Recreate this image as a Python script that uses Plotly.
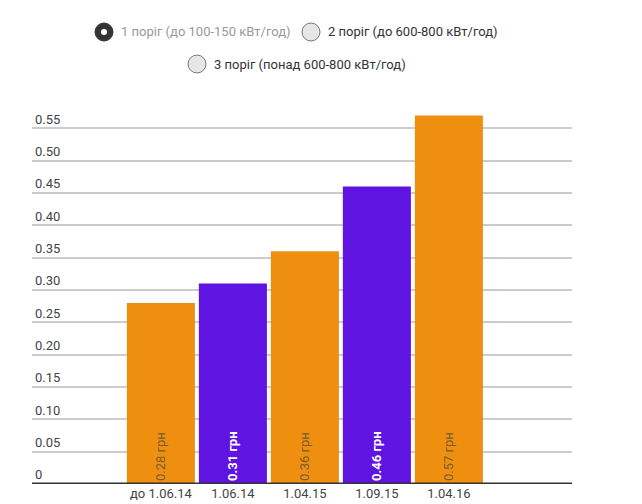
import plotly.graph_objects as go

categories = ["до 1.06.14", "1.06.14", "1.04.15", "1.09.15", "1.04.16"]
values = [0.28, 0.31, 0.36, 0.46, 0.57]
bar_labels = ["0.28 грн", "0.31 грн", "0.36 грн", "0.46 грн", "0.57 грн"]
bar_colors = ["#EE8F10", "#5F14E2", "#EE8F10", "#5F14E2", "#EE8F10"]
label_colors = ["#7A5C30", "#FFFFFF", "#7A5C30", "#FFFFFF", "#7A5C30"]
tick_vals = [0, 0.05, 0.10, 0.15, 0.20, 0.25, 0.30, 0.35, 0.40, 0.45, 0.50, 0.55]
tick_text = ["0", "0.05", "0.10", "0.15", "0.20", "0.25", "0.30", "0.35", "0.40", "0.45", "0.50", "0.55"]
legend_items = ["1 поріг (до 100-150 кВт/год)", "2 поріг (до 600-800 кВт/год)", "3 поріг (понад 600-800 кВт/год)"]

FONT = "Roboto, Arial, sans-serif"
W, H = 642, 504
ML, MR, MT, MB = 32, 70, 96, 20
PW, PH = W - ML - MR, H - MT - MB


def px_to_paper(px, py):
    return (px - ML) / PW, (H - MB - py) / PH


fig = go.Figure()
fig.add_trace(go.Bar(
    x=list(range(len(categories))),
    y=values,
    marker=dict(color=bar_colors, line=dict(width=0)),
    width=0.945,
    text=bar_labels,
    texttemplate=[("<b>%s</b>" % t) if c == "#FFFFFF" else t for t, c in zip(bar_labels, label_colors)],
    textposition="inside",
    insidetextanchor="start",
    textangle=-90,
    insidetextfont=dict(family=FONT, size=13, color=label_colors),
    cliponaxis=False,
    hoverinfo="skip",
))

fig.update_layout(
    width=W, height=H,
    margin=dict(l=ML, r=MR, t=MT, b=MB),
    plot_bgcolor="white", paper_bgcolor="white",
    showlegend=False,
    font=dict(family=FONT, size=13, color="#444"),
    xaxis=dict(
        range=[-1.79, 5.71],
        tickmode="array", tickvals=list(range(len(categories))), ticktext=categories,
        showgrid=False, zeroline=False, showline=False, ticks="",
        tickfont=dict(family=FONT, size=13, color="#444"),
        automargin=False,
    ),
    yaxis=dict(
        range=[0, 0.6],
        tickmode="array", tickvals=tick_vals, ticktext=tick_text,
        ticklabelposition="inside top",
        showgrid=True, gridcolor="#CCCCCC", gridwidth=1.5,
        zeroline=False, showline=False, ticks="",
        tickfont=dict(family=FONT, size=13, color="#444"),
        automargin=False,
    ),
)

# baseline
fig.add_shape(type="line", xref="paper", yref="y", x0=0, x1=1, y0=0, y1=0,
              line=dict(color="#333333", width=3), layer="above")

# radio-style legend
legend_pos = [(104, 32), (311, 32), (197, 64)]
for i, (name, (cx, cy)) in enumerate(zip(legend_items, legend_pos)):
    x0, y0 = px_to_paper(cx, cy)
    r = 9
    if i == 0:
        fig.add_shape(type="circle", xref="paper", yref="paper", xsizemode="pixel", ysizemode="pixel",
                      xanchor=x0, yanchor=y0, x0=-r, x1=r, y0=-r, y1=r,
                      fillcolor="#333333", line=dict(color="#333333", width=1))
        fig.add_shape(type="circle", xref="paper", yref="paper", xsizemode="pixel", ysizemode="pixel",
                      xanchor=x0, yanchor=y0, x0=-3, x1=3, y0=-3, y1=3,
                      fillcolor="white", line=dict(color="white", width=0))
        color = "#999999"
    else:
        fig.add_shape(type="circle", xref="paper", yref="paper", xsizemode="pixel", ysizemode="pixel",
                      xanchor=x0, yanchor=y0, x0=-r, x1=r, y0=-r, y1=r,
                      fillcolor="#E6E6E6", line=dict(color="#777777", width=1))
        color = "#333333"
    tx, ty = px_to_paper(cx + 15, cy)
    fig.add_annotation(xref="paper", yref="paper", x=tx, y=ty,
                       xanchor="left", yanchor="middle", showarrow=False,
                       text=name, font=dict(family=FONT, size=13, color=color))

fig.write_html("out.html")
